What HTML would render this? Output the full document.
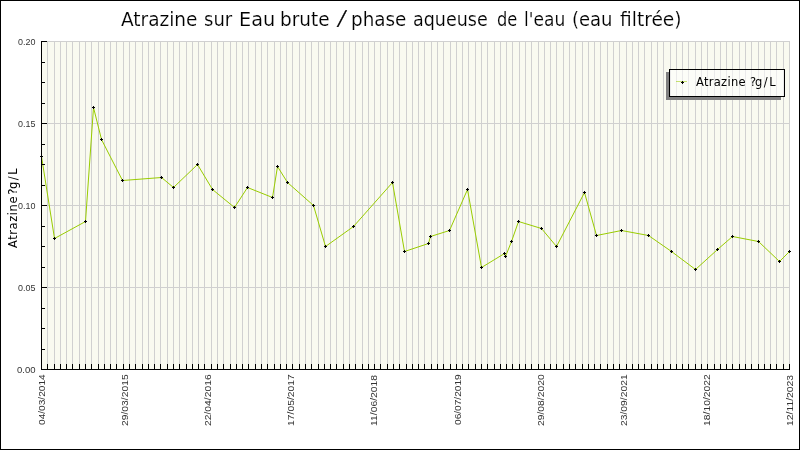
<!DOCTYPE html>
<html><head><meta charset="utf-8"><title>Atrazine</title>
<style>
html,body{margin:0;padding:0;background:#fff;}
svg{display:block;}
.tt{font-family:"DejaVu Sans Condensed","DejaVu Sans",sans-serif;font-size:20px;fill:#000;stroke:#fff;stroke-width:0.15px;paint-order:fill;}
.yl{font-family:"Liberation Sans",sans-serif;font-size:9.5px;fill:#333;}
.xl{font-family:"Liberation Sans",sans-serif;font-size:9.5px;fill:#333;}
.yt{font-family:"DejaVu Sans",sans-serif;font-size:11.5px;fill:#000;}
.lg{font-family:"DejaVu Sans",sans-serif;font-size:11.5px;fill:#000;}
</style></head>
<body><svg width="800" height="450" viewBox="0 0 800 450">
<rect x="42" y="42" width="747" height="327" fill="#f9faf0"/>
<path d="M47.5 41V369M54.5 41V369M60.5 41V369M66.5 41V369M72.5 41V369M79.5 41V369M85.5 41V369M91.5 41V369M98.5 41V369M104.5 41V369M110.5 41V369M116.5 41V369M123.5 41V369M129.5 41V369M135.5 41V369M142.5 41V369M148.5 41V369M154.5 41V369M160.5 41V369M167.5 41V369M173.5 41V369M179.5 41V369M186.5 41V369M192.5 41V369M198.5 41V369M204.5 41V369M211.5 41V369M217.5 41V369M223.5 41V369M230.5 41V369M236.5 41V369M242.5 41V369M248.5 41V369M255.5 41V369M261.5 41V369M267.5 41V369M274.5 41V369M280.5 41V369M286.5 41V369M292.5 41V369M299.5 41V369M305.5 41V369M311.5 41V369M318.5 41V369M324.5 41V369M330.5 41V369M336.5 41V369M343.5 41V369M349.5 41V369M355.5 41V369M362.5 41V369M368.5 41V369M374.5 41V369M380.5 41V369M387.5 41V369M393.5 41V369M399.5 41V369M406.5 41V369M412.5 41V369M418.5 41V369M424.5 41V369M431.5 41V369M437.5 41V369M443.5 41V369M450.5 41V369M456.5 41V369M462.5 41V369M468.5 41V369M475.5 41V369M481.5 41V369M487.5 41V369M494.5 41V369M500.5 41V369M506.5 41V369M512.5 41V369M519.5 41V369M525.5 41V369M531.5 41V369M538.5 41V369M544.5 41V369M550.5 41V369M556.5 41V369M563.5 41V369M569.5 41V369M575.5 41V369M582.5 41V369M588.5 41V369M594.5 41V369M600.5 41V369M607.5 41V369M613.5 41V369M619.5 41V369M626.5 41V369M632.5 41V369M638.5 41V369M644.5 41V369M651.5 41V369M657.5 41V369M663.5 41V369M670.5 41V369M676.5 41V369M682.5 41V369M688.5 41V369M695.5 41V369M701.5 41V369M707.5 41V369M714.5 41V369M720.5 41V369M726.5 41V369M732.5 41V369M739.5 41V369M745.5 41V369M751.5 41V369M758.5 41V369M764.5 41V369M770.5 41V369M776.5 41V369M783.5 41V369M789.5 41V369M42 41.5H790M42 123.5H790M42 205.5H790M42 287.5H790" stroke="#d0d0d0" stroke-width="1" fill="none" shape-rendering="crispEdges"/>
<polyline points="41.5,156.5 54.5,238.5 85.5,221.5 93.5,107.5 101.5,139.5 122.5,180.5 161.5,177.5 173.5,187.5 197.5,164.5 212.5,189.5 234.5,207.5 247.5,187.5 272.5,197.5 277.5,166.5 287.5,182.5 313.5,205.5 325.5,246.5 353.5,226.5 392.5,182.5 404.5,251.5 428.5,243.5 430.5,236.5 449.5,230.5 467.5,189.5 481.5,267.5 504.5,253.5 505.5,256.5 511.5,241.5 518.5,221.5 541.5,228.5 556.5,246.5 584.5,192.5 596.5,235.5 621.5,230.5 648.5,235.5 671.5,251.5 695.5,269.5 717.5,249.5 732.5,236.5 758.5,241.5 779.5,261.5 789.5,251.5" fill="none" stroke="#99cc00" stroke-width="1" stroke-linejoin="round"/>
<path d="M41.5 41V370M41 369.5H790M47.5 364V369M54.5 364V369M60.5 364V369M66.5 364V369M72.5 364V369M79.5 364V369M85.5 364V369M91.5 364V369M98.5 364V369M104.5 364V369M110.5 364V369M116.5 364V369M123.5 364V369M129.5 364V369M135.5 364V369M142.5 364V369M148.5 364V369M154.5 364V369M160.5 364V369M167.5 364V369M173.5 364V369M179.5 364V369M186.5 364V369M192.5 364V369M198.5 364V369M204.5 364V369M211.5 364V369M217.5 364V369M223.5 364V369M230.5 364V369M236.5 364V369M242.5 364V369M248.5 364V369M255.5 364V369M261.5 364V369M267.5 364V369M274.5 364V369M280.5 364V369M286.5 364V369M292.5 364V369M299.5 364V369M305.5 364V369M311.5 364V369M318.5 364V369M324.5 364V369M330.5 364V369M336.5 364V369M343.5 364V369M349.5 364V369M355.5 364V369M362.5 364V369M368.5 364V369M374.5 364V369M380.5 364V369M387.5 364V369M393.5 364V369M399.5 364V369M406.5 364V369M412.5 364V369M418.5 364V369M424.5 364V369M431.5 364V369M437.5 364V369M443.5 364V369M450.5 364V369M456.5 364V369M462.5 364V369M468.5 364V369M475.5 364V369M481.5 364V369M487.5 364V369M494.5 364V369M500.5 364V369M506.5 364V369M512.5 364V369M519.5 364V369M525.5 364V369M531.5 364V369M538.5 364V369M544.5 364V369M550.5 364V369M556.5 364V369M563.5 364V369M569.5 364V369M575.5 364V369M582.5 364V369M588.5 364V369M594.5 364V369M600.5 364V369M607.5 364V369M613.5 364V369M619.5 364V369M626.5 364V369M632.5 364V369M638.5 364V369M644.5 364V369M651.5 364V369M657.5 364V369M663.5 364V369M670.5 364V369M676.5 364V369M682.5 364V369M688.5 364V369M695.5 364V369M701.5 364V369M707.5 364V369M714.5 364V369M720.5 364V369M726.5 364V369M732.5 364V369M739.5 364V369M745.5 364V369M751.5 364V369M758.5 364V369M764.5 364V369M770.5 364V369M776.5 364V369M783.5 364V369M789.5 364V369M42 41.5H47M42 62.5H45M42 82.5H45M42 103.5H45M42 123.5H47M42 144.5H45M42 164.5H45M42 185.5H45M42 205.5H47M42 226.5H45M42 246.5H45M42 267.5H45M42 287.5H47M42 308.5H45M42 328.5H45M42 349.5H45M42 369.5H47" stroke="#000" stroke-width="1" fill="none" shape-rendering="crispEdges"/>
<path d="M40 156h3v1h-3zM41 155h1v3h-1zM53 238h3v1h-3zM54 237h1v3h-1zM84 221h3v1h-3zM85 220h1v3h-1zM92 107h3v1h-3zM93 106h1v3h-1zM100 139h3v1h-3zM101 138h1v3h-1zM121 180h3v1h-3zM122 179h1v3h-1zM160 177h3v1h-3zM161 176h1v3h-1zM172 187h3v1h-3zM173 186h1v3h-1zM196 164h3v1h-3zM197 163h1v3h-1zM211 189h3v1h-3zM212 188h1v3h-1zM233 207h3v1h-3zM234 206h1v3h-1zM246 187h3v1h-3zM247 186h1v3h-1zM271 197h3v1h-3zM272 196h1v3h-1zM276 166h3v1h-3zM277 165h1v3h-1zM286 182h3v1h-3zM287 181h1v3h-1zM312 205h3v1h-3zM313 204h1v3h-1zM324 246h3v1h-3zM325 245h1v3h-1zM352 226h3v1h-3zM353 225h1v3h-1zM391 182h3v1h-3zM392 181h1v3h-1zM403 251h3v1h-3zM404 250h1v3h-1zM427 243h3v1h-3zM428 242h1v3h-1zM429 236h3v1h-3zM430 235h1v3h-1zM448 230h3v1h-3zM449 229h1v3h-1zM466 189h3v1h-3zM467 188h1v3h-1zM480 267h3v1h-3zM481 266h1v3h-1zM503 253h3v1h-3zM504 252h1v3h-1zM504 256h3v1h-3zM505 255h1v3h-1zM510 241h3v1h-3zM511 240h1v3h-1zM517 221h3v1h-3zM518 220h1v3h-1zM540 228h3v1h-3zM541 227h1v3h-1zM555 246h3v1h-3zM556 245h1v3h-1zM583 192h3v1h-3zM584 191h1v3h-1zM595 235h3v1h-3zM596 234h1v3h-1zM620 230h3v1h-3zM621 229h1v3h-1zM647 235h3v1h-3zM648 234h1v3h-1zM670 251h3v1h-3zM671 250h1v3h-1zM694 269h3v1h-3zM695 268h1v3h-1zM716 249h3v1h-3zM717 248h1v3h-1zM731 236h3v1h-3zM732 235h1v3h-1zM757 241h3v1h-3zM758 240h1v3h-1zM778 261h3v1h-3zM779 260h1v3h-1zM788 251h3v1h-3zM789 250h1v3h-1z" fill="#000" shape-rendering="crispEdges"/>
<text x="18.0" y="45" textLength="17.41" lengthAdjust="spacingAndGlyphs" class="yl">0.20</text>
<text x="18.0" y="127" textLength="17.41" lengthAdjust="spacingAndGlyphs" class="yl">0.15</text>
<text x="18.0" y="209" textLength="17.41" lengthAdjust="spacingAndGlyphs" class="yl">0.10</text>
<text x="18.0" y="291" textLength="17.41" lengthAdjust="spacingAndGlyphs" class="yl">0.05</text>
<text x="17.0" y="373" textLength="18.50" lengthAdjust="spacingAndGlyphs" class="yl">0.00</text>
<text x="-425.0" y="45" textLength="50.65" lengthAdjust="spacingAndGlyphs" class="xl" transform="rotate(-90)">04/03/2014</text>
<text x="-426.0" y="128" textLength="51.70" lengthAdjust="spacingAndGlyphs" class="xl" transform="rotate(-90)">29/03/2015</text>
<text x="-426.0" y="211" textLength="51.70" lengthAdjust="spacingAndGlyphs" class="xl" transform="rotate(-90)">22/04/2016</text>
<text x="-426.0" y="294" textLength="51.77" lengthAdjust="spacingAndGlyphs" class="xl" transform="rotate(-90)">17/05/2017</text>
<text x="-426.0" y="377" textLength="51.12" lengthAdjust="spacingAndGlyphs" class="xl" transform="rotate(-90)">11/06/2018</text>
<text x="-425.0" y="461" textLength="50.65" lengthAdjust="spacingAndGlyphs" class="xl" transform="rotate(-90)">06/07/2019</text>
<text x="-426.0" y="544" textLength="51.70" lengthAdjust="spacingAndGlyphs" class="xl" transform="rotate(-90)">29/08/2020</text>
<text x="-426.0" y="627" textLength="51.70" lengthAdjust="spacingAndGlyphs" class="xl" transform="rotate(-90)">23/09/2021</text>
<text x="-426.0" y="710" textLength="51.77" lengthAdjust="spacingAndGlyphs" class="xl" transform="rotate(-90)">18/10/2022</text>
<text x="-426.0" y="793" textLength="51.14" lengthAdjust="spacingAndGlyphs" class="xl" transform="rotate(-90)">12/11/2023</text>
<text x="-248.0" y="17" textLength="51.55" lengthAdjust="spacing" class="yt" transform="rotate(-90)">Atrazine</text>
<text x="-195" y="17" class="yt" style="font-size:12.5px" transform="rotate(-90)">?</text>
<text x="-189.0" y="17" textLength="20.59" lengthAdjust="spacing" class="yt" transform="rotate(-90)">g/L</text>
<text x="121.0" y="26" textLength="76.45" lengthAdjust="spacingAndGlyphs" class="tt">Atrazine</text>
<text x="204.0" y="26" textLength="28.19" lengthAdjust="spacingAndGlyphs" class="tt">sur</text>
<text x="239.0" y="26" textLength="36.18" lengthAdjust="spacingAndGlyphs" class="tt">Eau</text>
<text x="280.0" y="26" textLength="49.48" lengthAdjust="spacingAndGlyphs" class="tt">brute</text>
<text transform="translate(340.3,24.7) skewX(-14) scale(1,1.02)" text-anchor="middle" class="tt" style="stroke:#000;stroke-width:0.25px">/</text>
<text x="351.0" y="26" textLength="55.40" lengthAdjust="spacingAndGlyphs" class="tt">phase</text>
<text x="413.0" y="26" textLength="74.72" lengthAdjust="spacingAndGlyphs" class="tt">aqueuse</text>
<text x="497.0" y="26" textLength="20.32" lengthAdjust="spacingAndGlyphs" class="tt">de</text>
<text x="524.0" y="26" textLength="41.22" lengthAdjust="spacingAndGlyphs" class="tt">l&apos;eau</text>
<text x="572.0" y="26" textLength="40.53" lengthAdjust="spacingAndGlyphs" class="tt">(eau</text>
<text x="620.0" y="26" textLength="61.60" lengthAdjust="spacingAndGlyphs" class="tt">filtrée)</text>
<path d="M666 72h3v28h-3zM669 97h112v3h-112z" fill="#808080" shape-rendering="crispEdges"/>
<rect x="669.5" y="69.5" width="115" height="27" fill="#fff" fill-opacity="0.55" stroke="#000" stroke-width="1"/>
<path d="M676 81.5H687" stroke="#99cc00" stroke-opacity="0.55" stroke-width="1"/>
<path d="M681 82h3v1h-3zM682 81h1v3h-1z" fill="#000" shape-rendering="crispEdges"/>
<text x="696.0" y="86" textLength="49.55" lengthAdjust="spacing" class="lg">Atrazine</text>
<text x="750.0" y="86" class="lg">?</text>
<text x="755.0" y="86" textLength="20.59" lengthAdjust="spacing" class="lg">g/L</text>
<rect x="0.5" y="0.5" width="799" height="449" fill="none" stroke="#000" stroke-width="1"/>
</svg></body></html>
